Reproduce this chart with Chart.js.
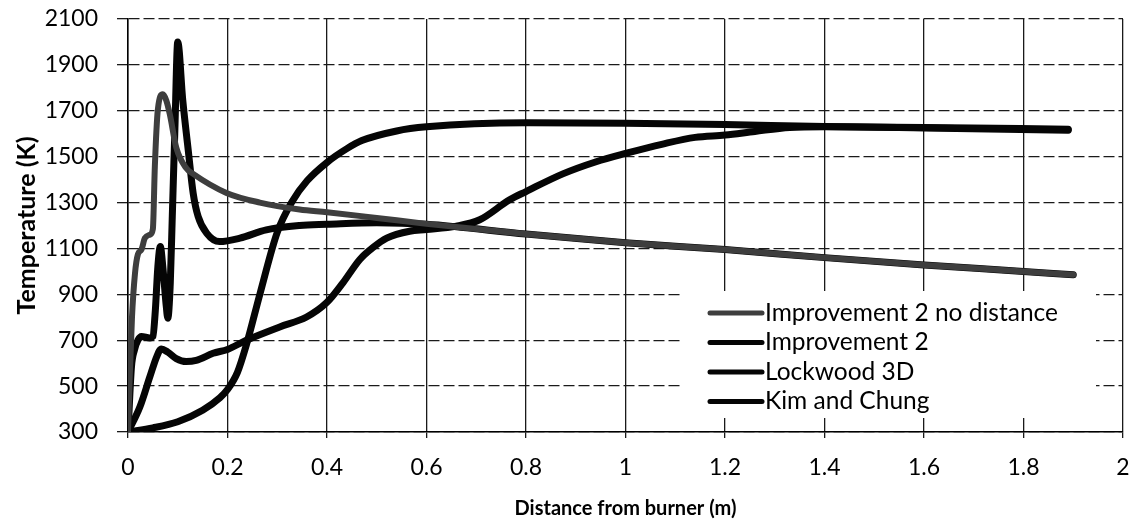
<!DOCTYPE html>
<html>
<head>
<meta charset="utf-8">
<script src="https://cdn.jsdelivr.net/npm/chart.js@4"></script>
<style>
  html, body { margin: 0; padding: 0; background: #fff; }
  #wrap { width: 1139px; height: 527px; }
</style>
</head>
<body>
<div id="wrap"><canvas id="myChart" width="1139" height="527"></canvas></div>
<script>
// distance from burner (m) / temperature (K) per model
const noDistX = [0, 0.003, 0.008, 0.014, 0.02, 0.027, 0.034, 0.044, 0.05, 0.054, 0.06, 0.07, 0.077, 0.084, 0.097, 0.117,
  0.131, 0.198, 0.265, 0.345, 0.4, 0.5, 0.6, 0.8, 1.0, 1.2, 1.4, 1.6, 1.8, 1.9];
const noDistT = [300, 510, 800, 990, 1075, 1095, 1145, 1160, 1185, 1460, 1705, 1772, 1745, 1685, 1540, 1450,
  1425, 1342, 1300, 1270, 1258, 1233, 1207, 1163, 1125, 1095, 1060, 1028, 1000, 985];

const imp2X = [0, 0.007, 0.013, 0.02, 0.027, 0.044, 0.05, 0.055, 0.06, 0.065, 0.07, 0.077, 0.08, 0.085, 0.089, 0.094,
  0.1, 0.11, 0.121, 0.131, 0.141, 0.158, 0.184, 0.225, 0.278, 0.345, 0.4, 0.5, 0.6, 0.8, 1.0, 1.2, 1.4, 1.6, 1.8, 1.9];
const imp2T = [300, 585, 658, 700, 716, 710, 716, 832, 1020, 1108, 1020, 846, 796, 949, 1239, 1600,
  2000, 1748, 1530, 1341, 1239, 1167, 1130, 1145, 1181, 1200, 1205, 1212, 1205, 1163, 1125, 1095, 1060, 1028, 1000, 985];

const lockX = [0, 0.024, 0.044, 0.058, 0.067, 0.08, 0.097, 0.117, 0.137, 0.171, 0.2, 0.238, 0.305, 0.359, 0.4, 0.432,
  0.466, 0.493, 0.52, 0.566, 0.6, 0.66, 0.707, 0.767, 0.8, 0.874, 0.941, 1.0, 1.075, 1.14, 1.2, 1.26, 1.33, 1.4, 1.6, 1.89];
const lockT = [300, 410, 541, 630, 662, 648, 620, 607, 612, 643, 660, 700, 758, 801, 865, 950,
  1052, 1105, 1145, 1175, 1182, 1197, 1225, 1312, 1348, 1425, 1478, 1514, 1555, 1584, 1594, 1610, 1627, 1630, 1625, 1615];

const kimX = [0, 0.05, 0.1, 0.15, 0.185, 0.2, 0.22, 0.238, 0.265, 0.3, 0.33, 0.36, 0.4, 0.44, 0.47, 0.54, 0.6, 0.8, 1.0,
  1.2, 1.4, 1.6, 1.89];
const kimT = [300, 318, 345, 395, 450, 485, 560, 680, 900, 1170, 1305, 1395, 1475, 1535, 1570, 1612, 1630, 1648, 1646,
  1640, 1632, 1627, 1620];

const seriesNames = ['Improvement 2 no distance', 'Improvement 2', 'Lockwood 3D', 'Kim and Chung'];

const xMin = 0, xMax = 2, xStep = 0.2;
const yMin = 300, yMax = 2100, yStep = 200;

const FONT = 'Lato';

function toPoints(xs, ys) {
  return xs.map((x, i) => ({ x: x, y: ys[i] }));
}

function lineSet(label, xs, ys, color, width) {
  return {
    label: label,
    data: toPoints(xs, ys),
    borderColor: color,
    borderWidth: width,
    borderCapStyle: 'round',
    borderJoinStyle: 'round',
    cubicInterpolationMode: 'monotone',
    pointRadius: 0,
    fill: false,
  };
}

// legend sits inside the plot, boxed in white over the grid
const boxLegend = {
  id: 'boxLegend',
  afterDatasetsDraw(chart) {
    const ctx = chart.ctx;
    ctx.save();
    ctx.fillStyle = '#fff';
    ctx.fillRect(680, 291, 416, 127);
    chart.data.datasets.forEach((ds, i) => {
      const y = 313 + i * 29.5;
      ctx.strokeStyle = ds.borderColor;
      ctx.lineWidth = 5;
      ctx.lineCap = 'round';
      ctx.beginPath();
      ctx.moveTo(710, y);
      ctx.lineTo(762, y);
      ctx.stroke();
      ctx.fillStyle = '#000';
      ctx.font = '24.5px ' + FONT;
      ctx.textAlign = 'left';
      ctx.textBaseline = 'middle';
      ctx.fillText(ds.label, 765, y);
    });
    ctx.restore();
  }
};

const ctx = document.getElementById('myChart');

new Chart(ctx, {
  type: 'line',
  data: {
    datasets: [
      lineSet(seriesNames[0], noDistX, noDistT, '#3e3e3e', 6),
      lineSet(seriesNames[1], imp2X, imp2T, '#050505', 7),
      lineSet(seriesNames[2], lockX, lockT, '#050505', 7),
      lineSet(seriesNames[3], kimX, kimT, '#050505', 7),
    ]
  },
  options: {
    responsive: false,
    animation: false,
    devicePixelRatio: 1,
    layout: { padding: { left: 0, right: 16, top: 19, bottom: 0 } },
    plugins: {
      legend: { display: false },
      tooltip: { enabled: false },
    },
    scales: {
      x: {
        type: 'linear',
        min: xMin,
        max: xMax,
        afterFit: (scale) => {
          scale.height = 95;
          scale.paddingLeft = 0;
          scale.paddingRight = 0;
        },
        ticks: {
          stepSize: xStep,
          padding: 16,
          color: '#000',
          font: { family: FONT, size: 23 },
          callback: (v) => +v.toFixed(1),
        },
        grid: { color: '#1a1a1a', lineWidth: 1.3, tickLength: 6 },
        border: { color: '#000', width: 1.5 },
        title: {
          display: true,
          text: 'Distance from burner (m)',
          color: '#000',
          font: { family: FONT, size: 20, weight: 'bold' },
          padding: { top: 0, bottom: 6 },
        },
      },
      y: {
        min: yMin,
        max: yMax,
        afterFit: (scale) => {
          scale.width = 128;
          scale.paddingTop = 0;
          scale.paddingBottom = 0;
        },
        ticks: {
          stepSize: yStep,
          padding: 19,
          color: '#000',
          font: { family: FONT, size: 23 },
          callback: (v) => String(v),
        },
        grid: { color: '#1a1a1a', lineWidth: 1.3, tickLength: 11, tickBorderDash: [] },
        border: { color: '#000', width: 1.5, dash: [11, 4] },
        title: {
          display: true,
          text: 'Temperature (K)',
          color: '#000',
          font: { family: FONT, size: 25, weight: 'bold' },
          padding: { top: 12, bottom: 0 },
        },
      },
    },
  },
  plugins: [boxLegend],
});
</script>
</body>
</html>
